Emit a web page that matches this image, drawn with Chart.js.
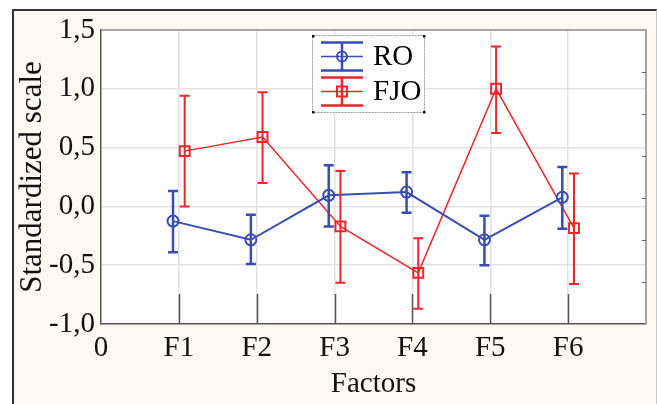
<!DOCTYPE html>
<html>
<head>
<meta charset="utf-8">
<script src="https://cdn.jsdelivr.net/npm/chart.js@4.4.0/dist/chart.umd.min.js"></script>
<style>
  html, body { margin: 0; padding: 0; background: #fff; }
  #frame { position: absolute; left: 12px; top: 9px; width: 642px; height: 400px;
           background: #fbf9f1; border-top: 2px solid #333; border-left: 2px solid #333; border-right: 1px solid #c8c8c8; }
  #wrap { position: absolute; left: 0; top: 0; width: 657px; height: 404px; }
</style>
</head>
<body>
<div id="frame"></div>
<div id="wrap"><canvas id="chart" width="657" height="404"></canvas></div>
<script>
// categories and values
const factors = ['F1', 'F2', 'F3', 'F4', 'F5', 'F6'];
const roMean  = [-0.125, -0.284, 0.094, 0.122, -0.284, 0.077];
const roUpper = [0.13, -0.07, 0.35, 0.29, -0.08, 0.335];
const roLower = [-0.39, -0.49, -0.17, -0.055, -0.50, -0.19];
const fjoMean  = [0.47, 0.59, -0.17, -0.565, 1.0, -0.185];
const fjoUpper = [0.94, 0.97, 0.30, -0.27, 1.36, 0.28];
const fjoLower = [0.0, 0.20, -0.65, -0.87, 0.625, -0.66];
const yTicks = [-1.0, -0.5, 0.0, 0.5, 1.0, 1.5];

const BLUE = '#3a4db4';
const RED = '#f0252b';
const SHIFT = 0.075;   // side-by-side offset of the two groups
const FONT = 'Liberation Serif, Times New Roman, serif';

function pts(means, shift) {
    return means.map((v, i) => ({ x: i + 1 + shift, y: v }));
}

const errBars = [
    { upper: roUpper, lower: roLower, shift: -SHIFT, color: BLUE, width: 2.5 },
    { upper: fjoUpper, lower: fjoLower, shift: SHIFT, color: RED, width: 2 }
];

const decor = {
    id: 'decor',
    beforeDraw(chart) {
        const { ctx, chartArea: a } = chart;
        ctx.save();
        ctx.fillStyle = '#fff';
        ctx.fillRect(a.left, a.top, a.right - a.left, a.bottom - a.top);
        ctx.restore();
    },
    beforeDatasetsDraw(chart) {
        const { ctx, chartArea: a, scales } = chart;
        ctx.save();
        // top / right frame of the plot
        ctx.strokeStyle = '#8a8a8a';
        ctx.lineWidth = 1.5;
        ctx.beginPath();
        ctx.moveTo(a.left, a.top); ctx.lineTo(a.right, a.top); ctx.lineTo(a.right, a.bottom);
        ctx.stroke();
        // long inward ticks on the x axis
        ctx.strokeStyle = '#555';
        ctx.lineWidth = 1.5;
        factors.forEach((f, i) => {
            const x = Math.round(scales.x.getPixelForValue(i + 1)) + 0.5;
            ctx.beginPath(); ctx.moveTo(x, a.bottom - 30); ctx.lineTo(x, a.bottom); ctx.stroke();
        });
        // small inward ticks on the right frame
        ctx.strokeStyle = '#666';
        ctx.lineWidth = 1;
        for (let v = 1; v < 7; v++) {
            const y = Math.round(scales.y2.getPixelForValue(v)) + 0.5;
            ctx.beginPath(); ctx.moveTo(a.right - 4, y); ctx.lineTo(a.right, y); ctx.stroke();
        }
        ctx.restore();
    },
    afterDatasetsDraw(chart) {
        const { ctx, scales } = chart;
        ctx.save();
        errBars.forEach(s => {
            ctx.strokeStyle = s.color;
            ctx.lineWidth = s.width;
            s.upper.forEach((u, i) => {
                const x = scales.x.getPixelForValue(i + 1 + s.shift);
                const yt = scales.y.getPixelForValue(u);
                const yb = scales.y.getPixelForValue(s.lower[i]);
                ctx.beginPath();
                ctx.moveTo(x, yt); ctx.lineTo(x, yb);
                ctx.moveTo(x - 5, yt); ctx.lineTo(x + 5, yt);
                ctx.moveTo(x - 5, yb); ctx.lineTo(x + 5, yb);
                ctx.stroke();
            });
        });
        ctx.restore();
    },
    afterDraw(chart) {
        const { ctx } = chart;
        const bx = 312, by = 35, bw = 112, bh = 77;
        ctx.save();
        ctx.fillStyle = '#fff';
        ctx.fillRect(bx, by, bw, bh);
        ctx.strokeStyle = '#999';
        ctx.lineWidth = 1;
        ctx.setLineDash([2, 1]);
        ctx.strokeRect(bx + 0.5, by + 0.5, bw, bh);
        ctx.setLineDash([]);
        ctx.fillStyle = '#111';
        [[bx, by], [bx + bw - 1, by], [bx, by + bh - 1], [bx + bw - 1, by + bh - 1]].forEach(p => ctx.fillRect(p[0], p[1], 2.5, 2.5));
        const entries = [
            { label: chart.data.datasets[0].label, color: BLUE, cy: 56.5, mark: 'circle' },
            { label: chart.data.datasets[1].label, color: RED, cy: 91.5, mark: 'rect' }
        ];
        entries.forEach(e => {
            const cx = 342;
            ctx.strokeStyle = e.color;
            ctx.lineWidth = 2.5;
            ctx.beginPath();
            ctx.moveTo(cx - 21, e.cy - 14); ctx.lineTo(cx + 21, e.cy - 14);
            ctx.moveTo(cx - 21, e.cy + 14); ctx.lineTo(cx + 21, e.cy + 14);
            ctx.moveTo(cx, e.cy - 14); ctx.lineTo(cx, e.cy + 14);
            ctx.stroke();
            ctx.lineWidth = 1.5;
            ctx.beginPath();
            ctx.moveTo(cx - 21, e.cy); ctx.lineTo(cx + 21, e.cy);
            ctx.stroke();
            ctx.lineWidth = 2;
            ctx.beginPath();
            if (e.mark === 'circle') ctx.arc(cx, e.cy, 5, 0, Math.PI * 2);
            else ctx.rect(cx - 5, e.cy - 5, 10, 10);
            ctx.stroke();
            ctx.fillStyle = '#000';
            ctx.font = '29px ' + FONT;
            ctx.textBaseline = 'middle';
            ctx.textAlign = 'left';
            ctx.fillText(e.label, 373, e.cy + 1);
        });
        ctx.restore();
    }
};

new Chart(document.getElementById('chart').getContext('2d'), {
    type: 'line',
    data: {
        datasets: [{
            label: 'RO',
            data: pts(roMean, -SHIFT),
            borderColor: BLUE,
            borderWidth: 2,
            pointStyle: 'circle',
            pointRadius: 5.5,
            pointBorderWidth: 2,
            pointBackgroundColor: 'rgba(0,0,0,0)',
            pointBorderColor: BLUE,
            tension: 0
        }, {
            label: 'FJO',
            data: pts(fjoMean, SHIFT),
            borderColor: RED,
            borderWidth: 1.5,
            pointStyle: 'rect',
            pointRadius: 7,
            pointBorderWidth: 2,
            pointBackgroundColor: 'rgba(0,0,0,0)',
            pointBorderColor: RED,
            tension: 0
        }]
    },
    options: {
        responsive: false,
        animation: false,
        devicePixelRatio: 1,
        layout: { padding: { top: 30, right: 11, left: 0, bottom: 0 } },
        plugins: { legend: { display: false }, tooltip: { enabled: false } },
        scales: {
            x: {
                type: 'linear',
                min: 0, max: 7,
                afterFit(s) { s.height = 80; },
                ticks: {
                    stepSize: 1, autoSkip: false, maxRotation: 0, padding: 7,
                    color: '#111',
                    font: { family: FONT, size: 29 },
                    callback: v => v === 0 ? '0' : (v >= 1 && v <= factors.length ? factors[v - 1] : '')
                },
                grid: {
                    drawTicks: false,
                    color: c => (c.tick && c.tick.value >= 1 && c.tick.value <= factors.length) ? '#e2e2e2' : 'rgba(0,0,0,0)',
                    lineWidth: 1.5
                },
                border: { display: true, color: '#555', width: 1.5 },
                title: {
                    display: true, text: 'Factors', color: '#111',
                    font: { family: FONT, size: 29 },
                    padding: { top: 0, bottom: 2 }
                }
            },
            y: {
                min: -1.0, max: 1.5,
                afterFit(s) { s.width = 101; },
                afterBuildTicks(s) { s.ticks = yTicks.map(v => ({ value: v })); },
                ticks: {
                    padding: 6, color: '#111',
                    font: { family: FONT, size: 29 },
                    callback: v => v.toFixed(1).replace('.', ',')
                },
                grid: {
                    drawTicks: false,
                    color: c => (c.tick && c.tick.value > -1 && c.tick.value < 1.5) ? '#e2e2e2' : 'rgba(0,0,0,0)',
                    lineWidth: 1.5
                },
                border: { display: true, color: '#555', width: 1.5 },
                title: {
                    display: true, text: 'Standardized scale', color: '#111',
                    font: { family: FONT, size: 31 },
                    padding: { top: 14, bottom: 0 }
                }
            },
            y2: {
                position: 'right', display: false,
                min: 0, max: 7
            }
        }
    },
    plugins: [decor]
});
</script>
</body>
</html>
